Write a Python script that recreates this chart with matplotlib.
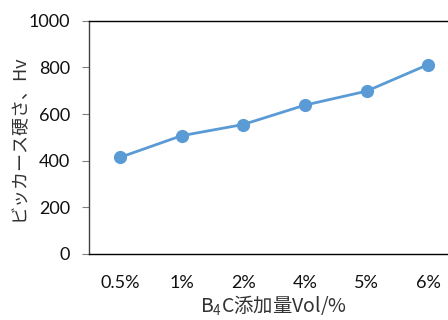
import matplotlib
matplotlib.use("Agg")
import matplotlib.pyplot as plt

categories = ["0.5%", "1%", "2%", "4%", "5%", "6%"]
hardness = [414, 507, 555, 638, 698, 812]
y_ticks = [0, 200, 400, 600, 800, 1000]

plt.rcParams["font.family"] = ["Lato", "Noto Sans CJK JP", "DejaVu Sans"]
plt.rcParams["mathtext.fontset"] = "custom"
plt.rcParams["mathtext.rm"] = "Noto Sans CJK JP"

fig = plt.figure(figsize=(4.48, 3.2), dpi=100)
ax = fig.add_axes([89 / 448, 66 / 320, 370 / 448, 233.3 / 320])

x = list(range(len(categories)))
ax.plot(x, hardness, color="#5B9BD5", linewidth=2.0, marker="o",
        markersize=9.5, markeredgewidth=0, clip_on=False, zorder=3)

ax.set_xlim(-0.5, len(categories) - 0.5)
ax.set_ylim(0, 1000)
ax.set_yticks(y_ticks)
ax.set_xticks(x)
ax.set_xticklabels(categories)

for side in ("top", "bottom"):
    ax.spines[side].set_color("#000000")
    ax.spines[side].set_linewidth(1.0)
ax.spines["left"].set_color("#404040")
ax.spines["left"].set_linewidth(1.0)
ax.spines["right"].set_visible(False)

ax.tick_params(axis="y", direction="out", length=5, width=0.8, color="#808080",
               labelsize=13, labelcolor="#111111", pad=8.5)
ax.tick_params(axis="x", length=0, labelsize=13, labelcolor="#111111", pad=15)

ax.set_ylabel("ビッカース硬さ、Hv", fontsize=13, color="#333333",
              family=["Noto Sans CJK JP", "DejaVu Sans"])
ax.yaxis.set_label_coords(-0.165, 0.5)
ax.set_xlabel("B$_{\\mathregular{4}}$C添加量Vol/%", fontsize=14, color="#333333",
              family=["Noto Sans CJK JP", "DejaVu Sans"], labelpad=2)

fig.savefig("out.png", dpi=100)
